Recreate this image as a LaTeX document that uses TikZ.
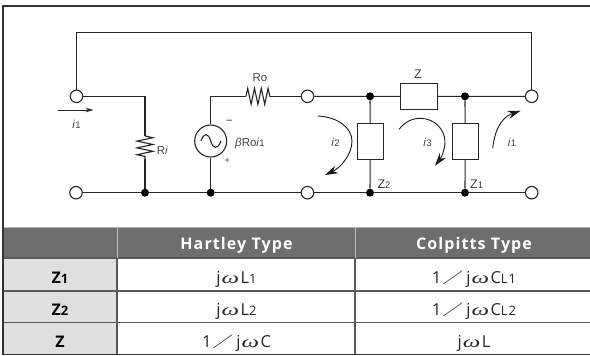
\documentclass[tikz,border=0pt]{standalone}
\usepackage{fontspec}
\setmainfont{Liberation Sans}
\newfontfamily\tablefont[LetterSpace=7]{Open Sans}
\newfontfamily\cjkfont{Noto Sans CJK JP}
\newfontfamily\omegafont{Liberation Serif}
\usepackage{tikz}
\usetikzlibrary{positioning, arrows.meta, decorations.pathmorphing}
\definecolor{headgray}{HTML}{6E6E6E}
\definecolor{rowgray}{HTML}{DEDFDF}
\definecolor{rulegray}{HTML}{5A5A5A}
\newcommand{\ii}[1]{\textit{i}{\fontsize{9.5}{10}\selectfont #1}}
\newcommand{\smalltxt}[1]{{\fontsize{9.5}{10}\selectfont #1}}
\newcommand{\subtxt}[1]{{\fontsize{13}{15}\selectfont #1}}
\newcommand{\wideomega}{\kern1pt\scalebox{1.5}[1]{\omegafont\itshape ω}\kern1.5pt}
\newcommand{\oneover}{1\kern1pt\scalebox{1.4}[1]{\cjkfont\fontsize{15}{15}\selectfont ／}\kern3pt}
\begin{document}
\begin{tikzpicture}[x=1pt,y=-1pt,>={Stealth[length=13pt,width=8pt]},
  wire/.style={draw=black!85,line width=1.1pt},
  term/.style={circle,draw=black!85,fill=white,line width=1.1pt,inner sep=0pt,minimum size=12.5pt},
  junc/.style={circle,fill=black,inner sep=0pt,minimum size=8pt},
  imped/.style={rectangle,draw=black!85,fill=white,line width=1.1pt,inner sep=0pt},
  lab/.style={font=\fontsize{11.5}{13}\selectfont,text=black!75,inner sep=0pt},
  res/.style={wire,decorate,decoration={zigzag,segment length=6.8pt,amplitude=8pt}},
  cur/.style={->,black!90,line width=0.9pt},
  hd/.style={font=\tablefont\bfseries\fontsize{16}{18}\selectfont,text=white,inner sep=0pt,anchor=base},
  cel/.style={font=\tablefont\fontsize{16.5}{18}\selectfont,text=black!85,inner sep=0pt,anchor=base},
  rowhd/.style={font=\tablefont\bfseries\fontsize{16}{18}\selectfont,text=black,inner sep=0pt,anchor=base}]
  \useasboundingbox (0,0) rectangle (590,356);

  % table background
  \fill[headgray] (3,227) rectangle (590,258);
  \fill[rowgray] (3,258) rectangle (117,355);
  \draw[rulegray,line width=1.3pt] (3,258) -- (590,258) (3,291) -- (590,291) (3,322.7) -- (590,322.7);
  \draw[rulegray,line width=1.1pt] (117,258) -- (117,355) (355,258) -- (355,355);
  \draw[black!25,line width=0.8pt] (117,227) -- (117,258) (355,227) -- (355,258);
  \draw[black!30,line width=1pt] (3,227) -- (590,227);
  \draw[black!80,line width=1.5pt] (590,5.8) -- (3,5.8) -- (3,354.7) -- (590,354.7);

  % terminals and junctions
  \node[term] (tl) at (76.5,96.3) {};
  \node[term] (bl) at (76,192.7) {};
  \node[term] (tm) at (307.5,96.3) {};
  \node[term] (bm) at (307.5,192.7) {};
  \node[term] (tr) at (531.7,96.3) {};
  \node[term] (br) at (531.7,192.7) {};
  \node[junc] (j1) at (145,192.7) {};
  \node[junc] (j2) at (210.7,192.7) {};
  \node[junc] (j3) at (370,96.3) {};
  \node[junc] (j4) at (465,96.3) {};
  \node[junc] (j5) at (370,192.7) {};
  \node[junc] (j6) at (465,192.7) {};
  \coordinate (c1) at (76.5,32.7);
  \coordinate (c2) at (531.7,32.7);
  \coordinate (c3) at (145,96.3);
  \coordinate (c4) at (210.7,96.3);
  \coordinate (ra) at (145,136);
  \coordinate (rb) at (145,159);
  \coordinate (ro1) at (246,96.3);
  \coordinate (ro2) at (270,96.3);

  % boxes
  \node[imped,minimum width=36.5pt,minimum height=25.5pt] (z) at (419,96.5) {};
  \node[imped,minimum width=26pt,minimum height=36pt] (z2) at (370.3,141.3) {};
  \node[imped,minimum width=26pt,minimum height=36pt] (z1) at (465.2,141.3) {};
  \node[circle,draw=black!85,line width=1.1pt,minimum size=32pt,inner sep=0pt] (src) at (210.7,141) {};

  % wires
  \draw[wire] (tl) -- (c1) -- (c2) -- (tr);
  \draw[wire] (tl) -- (c3) -- (ra);
  \draw[res] (ra) -- (rb);
  \draw[wire] (rb) -- (j1);
  \draw[wire] (bl) -- (j1) -- (j2) -- (bm);
  \draw[wire] (bm) -- (j5) -- (j6) -- (br);
  \draw[wire] (j2) -- (src) -- (c4) -- (ro1);
  \draw[res] (ro1) -- (ro2);
  \draw[wire] (ro2) -- (tm);
  \draw[wire] (tm) -- (j3) -- (z) -- (j4) -- (tr);
  \draw[wire] (j3) -- (z2) -- (j5);
  \draw[wire] (j4) -- (z1) -- (j6);

  % sine in the source
  \draw[wire] (201,141) .. controls (204,132) and (208.5,133) .. (210.7,141)
    .. controls (213,149) and (217.5,150) .. (221,141);

  % current arrows
  \draw[->,>={Stealth[length=8pt,width=4.5pt]},black!85,line width=0.7pt] (58,110) -- (93.5,110);
  \draw[cur] (318,116) .. controls (338,117) and (352,128) .. (352,141)
    .. controls (352,155) and (340,168) .. (325,175);
  \draw[cur] (399,129.3) .. controls (405,122) and (412,118.3) .. (420,118.3)
    .. controls (435,118.3) and (445,130) .. (445,141.7) .. controls (445,150) and (441,158) .. (435,165.7);
  \draw[cur] (492.7,148.3) .. controls (494,135) and (499,118) .. (520.7,110.7);

  % labels
  \node[lab] (li1) at (76.5,124) {\ii{1}};
  \node[lab] (lri) at (162.5,150) {R\textit{i}};
  \node[lab] (lro) at (260,77.7) {Ro};
  \node[lab,anchor=west] (lb) at (235,144) {\textit{β}Ro\ii{1}};
  \node[lab] (lm) at (229.3,122.7) {−};
  \node[lab,font=\fontsize{9}{10}\selectfont] (lp) at (227.3,161.3) {+};
  \node[lab] (li2) at (335.5,142.3) {\ii{2}};
  \node[lab] (li3) at (427.5,142.3) {\ii{3}};
  \node[lab] (li4) at (512,142.3) {\ii{1}};
  \node[lab,font=\fontsize{12.5}{14}\selectfont] (lz) at (418,74) {Z};
  \node[lab,font=\fontsize{12.5}{14}\selectfont] (lz2) at (384,183.7) {Z\smalltxt{2}};
  \node[lab,font=\fontsize{12.5}{14}\selectfont] (lz1) at (476.7,183.7) {Z\smalltxt{1}};

  % table text
  \node[hd] (h1) at (236.5,249) {Hartley Type};
  \node[hd] (h2) at (474,249) {Colpitts Type};
  \node[rowhd] (r1) at (60,283.3) {Z\subtxt{1}};
  \node[rowhd] (r2) at (60,315.7) {Z\subtxt{2}};
  \node[rowhd] (r3) at (60,347.7) {Z};
  \node[cel] (a1) at (236.5,283.3) {j\wideomega L\subtxt{1}};
  \node[cel] (a2) at (236.5,315.7) {j\wideomega L\subtxt{2}};
  \node[cel] (a3) at (236.5,347.7) {\oneover j\wideomega C};
  \node[cel] (b1) at (474,283.3) {\oneover j\wideomega C\subtxt{L1}};
  \node[cel] (b2) at (474,315.7) {\oneover j\wideomega C\subtxt{L2}};
  \node[cel] (b3) at (474,347.7) {j\wideomega L};
\end{tikzpicture}
\end{document}
